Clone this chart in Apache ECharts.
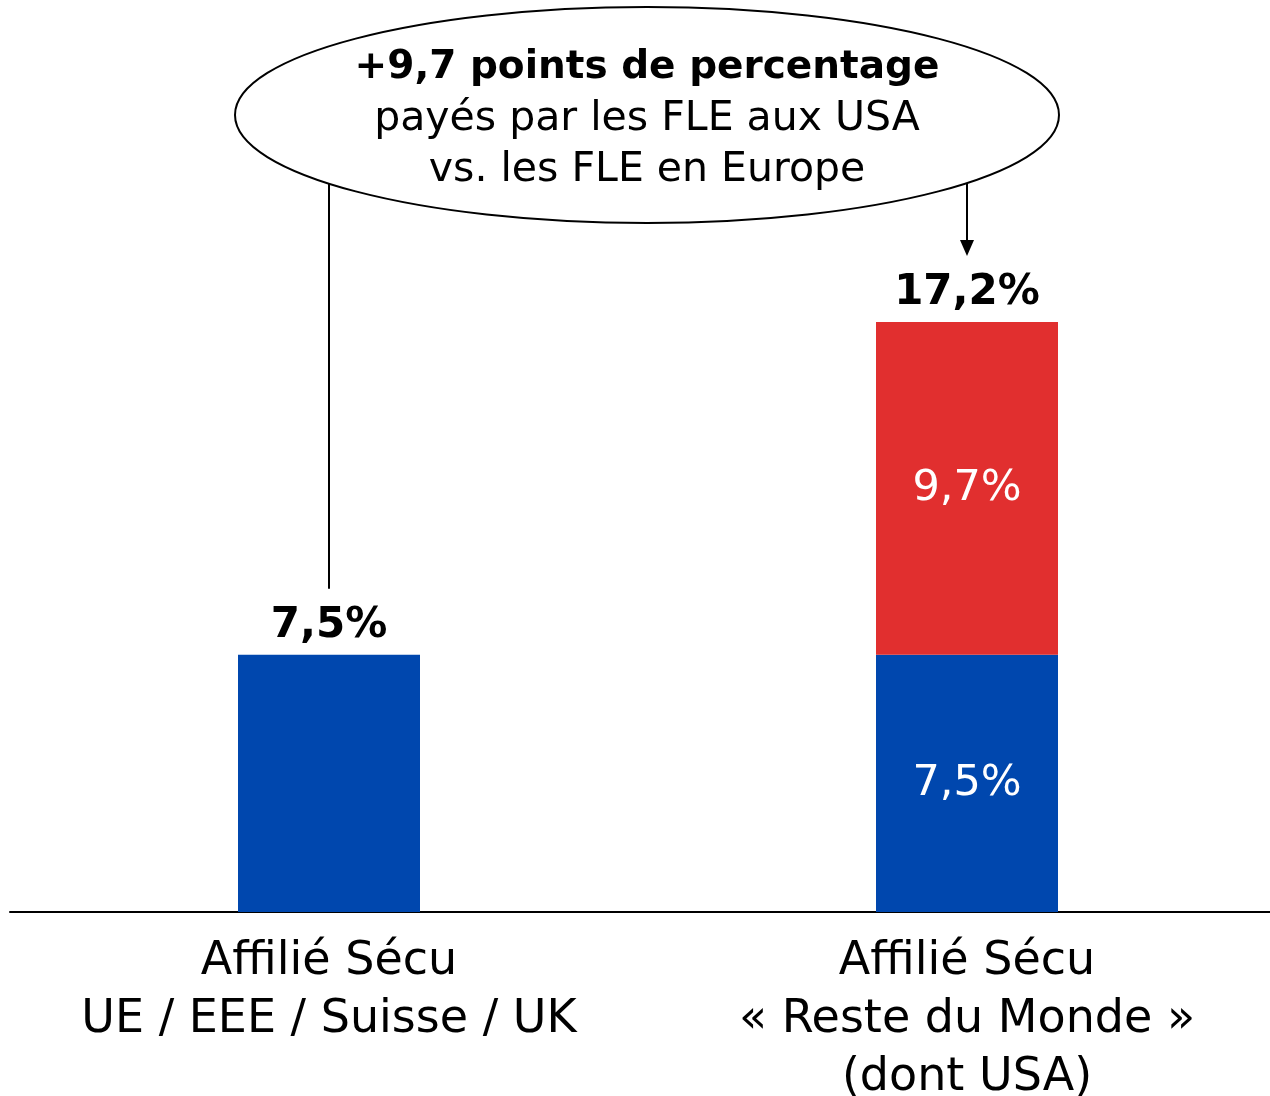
<!DOCTYPE html>
<html><head><meta charset="utf-8">
<script src="https://cdn.jsdelivr.net/npm/echarts@6/dist/echarts.min.js"></script>
<style>html,body{margin:0;padding:0;background:#fff}#c{width:1270px;height:1096px}</style>
</head><body><div id="c"></div>
<script>
// ---- data ----
const categories = ['Affilié Sécu\nUE / EEE / Suisse / UK', 'Affilié Sécu\n« Reste du Monde »\n(dont USA)'];
const baseRate = [7.5, 7.5];      // taux payé par tous (bleu)
const usaExtra = [0, 9.7];        // surcoût « Reste du Monde » (rouge)
const calloutLines = ['+9,7 points de percentage', 'payés par les FLE aux USA', 'vs. les FLE en Europe'];

const FONT = '"DejaVu Sans", sans-serif';
const BLUE = '#0047AE', RED = '#E12F2F';
const fmt = v => v.toFixed(1).replace('.', ',') + '%';
const totals = baseRate.map((v, i) => Math.round((v + usaExtra[i]) * 10) / 10);

const chart = echarts.init(document.getElementById('c'), null, {renderer: 'canvas'});
chart.setOption({
  animation: false,
  backgroundColor: '#fff',
  grid: {left: 10, top: 226, width: 1276, height: 686, containLabel: false, outerBoundsMode: 'none'},
  xAxis: {
    type: 'category', data: categories,
    axisLine: {lineStyle: {color: '#000', width: 2}},
    axisTick: {show: false},
    axisLabel: {color: '#000', fontFamily: FONT, fontSize: 46, lineHeight: 58, margin: 21, interval: 0}
  },
  yAxis: {type: 'value', min: 0, max: 20, show: false, splitLine: {show: false}},
  series: [
    {
      type: 'bar', stack: 's', barWidth: 182,
      itemStyle: {color: BLUE},
      data: baseRate.map((v, i) => ({
        value: v,
        label: usaExtra[i] > 0
          ? {show: true, position: 'inside', color: '#fff', fontFamily: FONT, fontSize: 43, formatter: () => fmt(v)}
          : {show: false}
      }))
    },
    {
      type: 'bar', stack: 's', barWidth: 182,
      itemStyle: {color: RED},
      data: usaExtra.map(v => ({
        value: v,
        label: v > 0
          ? {show: true, position: 'inside', color: '#fff', fontFamily: FONT, fontSize: 43, formatter: () => fmt(v)}
          : {show: false}
      }))
    },
    {
      type: 'bar', stack: 's', barWidth: 182,
      itemStyle: {color: 'transparent'},
      data: totals.map(() => 0),
      label: {
        show: true, position: 'top', distance: 7, color: '#000', fontFamily: FONT,
        fontWeight: 'bold', fontSize: 42, lineHeight: 44,
        formatter: p => fmt(totals[p.dataIndex])
      }
    }
  ]
});

// ---- callout annotation anchored on the category centres ----
const x0 = chart.convertToPixel({xAxisIndex: 0}, categories[0]);
const x1 = chart.convertToPixel({xAxisIndex: 0}, categories[1]);
const yTop0 = chart.convertToPixel({yAxisIndex: 0}, totals[0]);
const yTop1 = chart.convertToPixel({yAxisIndex: 0}, totals[1]);
const cx = 647, cy = 115;
chart.setOption({
  graphic: [
    {type: 'line', z: 10, shape: {x1: x0, y1: 150, x2: x0, y2: yTop0 - 66}, style: {stroke: '#000', lineWidth: 2}},
    {type: 'line', z: 10, shape: {x1: x1, y1: 150, x2: x1, y2: yTop1 - 80}, style: {stroke: '#000', lineWidth: 2}},
    {type: 'polygon', z: 10, shape: {points: [[x1 - 7, yTop1 - 82], [x1 + 7, yTop1 - 82], [x1, yTop1 - 66]]}, style: {fill: '#000'}},
    {type: 'ellipse', z: 20, shape: {cx: cx, cy: cy, rx: 412, ry: 108}, style: {fill: '#fff', stroke: '#000', lineWidth: 2}},
    {type: 'text', z: 30, x: cx, y: 68, style: {text: calloutLines[0], fill: '#000', font: 'bold 39px ' + FONT, textAlign: 'center', textVerticalAlign: 'middle'}},
    {type: 'text', z: 30, x: cx, y: 119, style: {text: calloutLines[1], fill: '#000', font: '41px ' + FONT, textAlign: 'center', textVerticalAlign: 'middle'}},
    {type: 'text', z: 30, x: cx, y: 170, style: {text: calloutLines[2], fill: '#000', font: '41px ' + FONT, textAlign: 'center', textVerticalAlign: 'middle'}}
  ]
});
</script></body></html>
